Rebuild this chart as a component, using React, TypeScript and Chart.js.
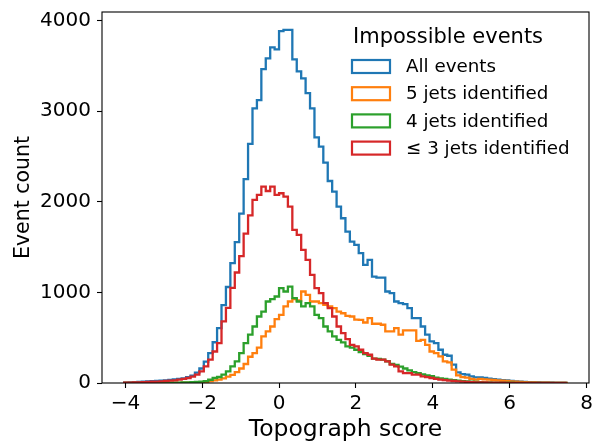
import React, { useEffect, useRef } from 'react';
import { Chart, registerables } from 'chart.js';

Chart.register(...registerables);

// Histogram binning (100 equal bins)
const binStart = -4.034;
const binWidth = 0.1152;

// Counts per bin
const allEvents = [
  5, 8, 10, 12, 15, 17, 20, 22, 25, 30,
  35, 40, 45, 50, 65, 80, 115, 160, 235, 330,
  450, 606, 860, 1060, 1323, 1555, 1870, 2250, 2640, 3032,
  3124, 3465, 3583, 3705, 3683, 3885, 3899, 3899, 3572, 3440,
  3363, 3200, 3032, 2712, 2609, 2432, 2230, 2112, 1947, 1819,
  1672, 1561, 1525, 1433, 1304, 1359, 1175, 1164, 1164, 1010,
  992, 900, 882, 870, 827, 717, 717, 624, 533, 459,
  441, 367, 312, 301, 202, 117, 99, 92, 73, 62,
  62, 55, 48, 42, 36, 32, 28, 22, 18, 15,
  12, 10, 8, 7, 5, 4, 3, 2, 2, 1,
];

const fiveJets = [
  0, 0, 0, 0, 0, 0, 0, 0, 1, 1,
  1, 2, 2, 3, 3, 4, 5, 8, 12, 20,
  28, 38, 50, 70, 90, 120, 160, 210, 290, 330,
  390, 514, 569, 624, 705, 753, 845, 900, 926, 911,
  1010, 973, 900, 900, 882, 863, 845, 827, 789, 770,
  740, 734, 700, 698, 668, 717, 654, 654, 643, 569,
  569, 606, 533, 580, 580, 580, 466, 477, 422, 348,
  330, 293, 238, 227, 148, 85, 65, 60, 45, 38,
  45, 40, 37, 33, 29, 25, 23, 17, 14, 12,
  9, 8, 6, 5, 4, 3, 2, 2, 1, 1,
];

const fourJets = [
  1, 1, 1, 2, 2, 2, 3, 3, 3, 4,
  4, 5, 5, 6, 7, 9, 12, 15, 20, 36,
  55, 66, 92, 128, 183, 238, 330, 441, 533, 624,
  734, 789, 900, 926, 955, 1047, 1010, 1065, 937, 900,
  845, 882, 845, 753, 717, 624, 569, 514, 477, 448,
  404, 390, 367, 340, 320, 300, 270, 265, 257, 240,
  210, 200, 180, 160, 140, 120, 110, 95, 85, 75,
  60, 52, 45, 38, 32, 26, 21, 17, 14, 11,
  9, 8, 6, 5, 4, 4, 3, 3, 2, 2,
  2, 1, 1, 1, 1, 1, 0, 0, 0, 0,
];

const threeOrFewerJets = [
  3, 5, 6, 8, 10, 12, 14, 16, 18, 22,
  26, 30, 38, 45, 55, 70, 92, 128, 183, 257,
  348, 441, 680, 830, 1050, 1220, 1400, 1650, 1850, 2021,
  2076, 2168, 2120, 2168, 2076, 2095, 2057, 1947, 1690, 1635,
  1470, 1359, 1194, 1047, 992, 882, 827, 734, 624, 551,
  485, 422, 404, 367, 330, 312, 270, 257, 257, 238,
  202, 183, 128, 110, 110, 92, 92, 73, 65, 55,
  45, 38, 32, 27, 22, 18, 15, 12, 10, 8,
  7, 6, 5, 4, 3, 3, 2, 2, 2, 1,
  1, 1, 1, 1, 1, 1, 0, 0, 0, 0,
];

const seriesLabels = ['All events', '5 jets identified', '4 jets identified', '≤ 3 jets identified'];
const seriesColors = ['#1f77b4', '#ff7f0e', '#2ca02c', '#d62728'];
const legendTitle = 'Impossible events';
const xTitle = 'Topograph score';
const yTitle = 'Event count';
const xTicks = [-4, -2, 0, 2, 4, 6, 8];
const yTicks = [0, 1000, 2000, 3000, 4000];
const xRange = [-4.61, 8.065];
const yRange = [0, 4096];

const FONT = "'DejaVu Sans', sans-serif";

function stepOutline(counts: number[]) {
  const pts: { x: number; y: number }[] = [{ x: binStart, y: 0 }];
  counts.forEach((c, i) => {
    pts.push({ x: binStart + i * binWidth, y: c });
    pts.push({ x: binStart + (i + 1) * binWidth, y: c });
  });
  pts.push({ x: binStart + counts.length * binWidth, y: 0 });
  return pts;
}

const fmt = (v: number) => (v < 0 ? '\u2212' + Math.abs(v) : String(v));

const framePlugin = {
  id: 'frame',
  afterDatasetsDraw(chart: any) {
    const { ctx, chartArea } = chart;
    ctx.save();
    ctx.strokeStyle = '#000';
    ctx.lineWidth = 1.1;
    ctx.strokeRect(chartArea.left, chartArea.top, chartArea.right - chartArea.left, chartArea.bottom - chartArea.top);
    ctx.restore();
  },
};

const legendPlugin = {
  id: 'boxLegend',
  afterDraw(chart: any) {
    const { ctx, chartArea } = chart;
    const x0 = chartArea.right - 237;
    ctx.save();
    ctx.fillStyle = '#000';
    ctx.textAlign = 'left';
    ctx.textBaseline = 'middle';
    ctx.font = `21px ${FONT}`;
    ctx.fillText(legendTitle, x0 + 1, chartArea.top + 26);
    ctx.font = `18.3px ${FONT}`;
    chart.data.datasets.forEach((ds: any, i: number) => {
      const cy = chartArea.top + 54.5 + 27.2 * i;
      ctx.strokeStyle = ds.borderColor;
      ctx.lineWidth = 2.2;
      ctx.strokeRect(x0, cy - 6.5, 38, 13);
      ctx.fillStyle = '#000';
      ctx.fillText(ds.label, x0 + 54, cy + 1);
    });
    ctx.restore();
  },
};

export default function App() {
  const ref = useRef<HTMLCanvasElement | null>(null);

  useEffect(() => {
    document.body.style.margin = '0';
    const canvas = ref.current;
    if (!canvas) return;
    const seriesData = [allEvents, fiveJets, fourJets, threeOrFewerJets];
    const tickFont = { family: FONT, size: 20 };
    const chart = new Chart(canvas, {
      type: 'line',
      data: {
        datasets: seriesData.map((d, i) => ({
          label: seriesLabels[i],
          data: stepOutline(d),
          borderColor: seriesColors[i],
          backgroundColor: seriesColors[i],
          borderWidth: 2.3,
          pointRadius: 0,
          pointHoverRadius: 0,
          fill: false,
          tension: 0,
          borderJoinStyle: 'miter',
          order: seriesData.length - i,
        })),
      },
      options: {
        responsive: false,
        animation: false,
        events: [],
        layout: { padding: { left: 0, right: 5, top: 12, bottom: 0 } },
        plugins: { legend: { display: false }, tooltip: { enabled: false }, title: { display: false } },
        scales: {
          x: {
            type: 'linear',
            min: xRange[0],
            max: xRange[1],
            afterBuildTicks: (s: any) => {
              s.ticks = xTicks.map((v) => ({ value: v }));
            },
            afterFit: (s: any) => {
              s.height = 59;
              s.paddingLeft = 0;
              s.paddingRight = 0;
            },
            ticks: {
              font: tickFont,
              color: '#000',
              padding: 4,
              maxRotation: 0,
              autoSkip: false,
              callback: (v: any) => fmt(Number(v)),
            },
            grid: { display: true, drawOnChartArea: false, drawTicks: true, tickLength: 5, tickWidth: 1.1, tickColor: '#000' },
            border: { display: false },
            title: { display: true, text: xTitle, color: '#000', font: { family: FONT, size: 23.5 }, padding: { top: 0, bottom: -2 } },
          },
          y: {
            type: 'linear',
            min: yRange[0],
            max: yRange[1],
            afterBuildTicks: (s: any) => {
              s.ticks = yTicks.map((v) => ({ value: v }));
            },
            afterFit: (s: any) => {
              s.width = 102;
              s.paddingTop = 0;
              s.paddingBottom = 0;
            },
            ticks: {
              font: tickFont,
              color: '#000',
              padding: 6,
              autoSkip: false,
              callback: (v: any) => fmt(Number(v)),
            },
            grid: { display: true, drawOnChartArea: false, drawTicks: true, tickLength: 5, tickWidth: 1.1, tickColor: '#000' },
            border: { display: false },
            title: { display: true, text: yTitle, color: '#000', font: { family: FONT, size: 20.5 }, padding: { top: 11, bottom: 0 } },
          },
        },
      },
      plugins: [framePlugin, legendPlugin],
    } as any);
    return () => chart.destroy();
  }, []);

  return (
    <div style={{ width: 594, height: 442, background: '#fff' }}>
      <canvas ref={ref} width={594} height={442} style={{ display: 'block' }} />
    </div>
  );
}
